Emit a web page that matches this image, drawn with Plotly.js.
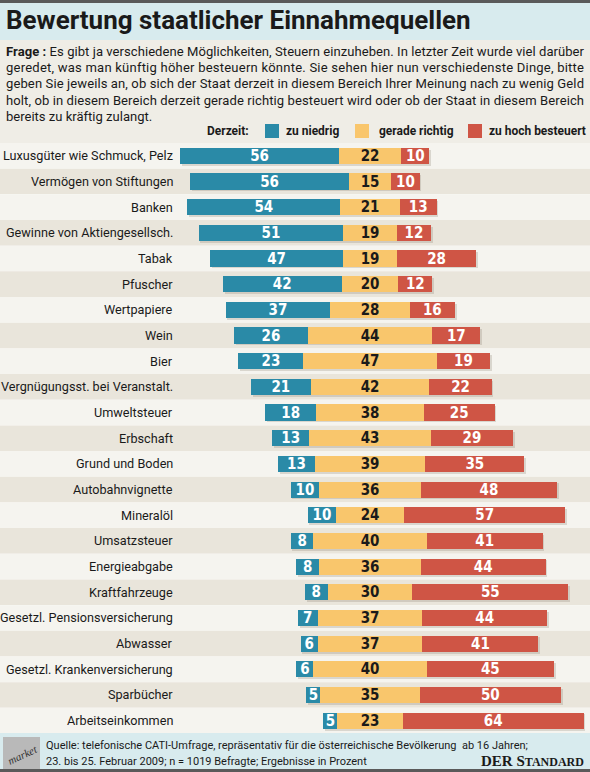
<!DOCTYPE html>
<html>
<head>
<meta charset="utf-8">
<script src="https://cdn.plot.ly/plotly-3.0.1.min.js"></script>
<style>
html,body{margin:0;padding:0;background:#fff;}
#chart{width:590px;height:772px;}
</style>
</head>
<body>
<div id="chart"></div>
<script>
// ---------- data ----------
const categories = [
  "Luxusgüter wie Schmuck, Pelz","Vermögen von Stiftungen","Banken","Gewinne von Aktiengesellsch.",
  "Tabak","Pfuscher","Wertpapiere","Wein","Bier","Vergnügungsst. bei Veranstalt.","Umweltsteuer",
  "Erbschaft","Grund und Boden","Autobahnvignette","Mineralöl","Umsatzsteuer","Energieabgabe",
  "Kraftfahrzeuge","Gesetzl. Pensionsversicherung","Abwasser","Gesetzl. Krankenversicherung",
  "Sparbücher","Arbeitseinkommen"
];
const zuNiedrig      = [56,56,54,51,47,42,37,26,23,21,18,13,13,10,10,8,8,8,7,6,6,5,5];
const geradeRichtig  = [22,15,21,19,19,20,28,44,47,42,38,43,39,36,24,40,36,30,37,37,40,35,23];
const zuHoch         = [10,10,13,12,28,12,16,17,19,22,25,29,35,48,57,41,44,55,44,41,45,50,64];
const seriesNames = ["zu niedrig","gerade richtig","zu hoch besteuert"];
const legendTitle = "Derzeit:";
const titleText = "Bewertung staatlicher Einnahmequellen";
const questionLines = [
  "<b>Frage :</b> Es gibt ja verschiedene Möglichkeiten, Steuern einzuheben. In letzter Zeit wurde viel darüber",
  "geredet, was man künftig höher besteuern könnte. Sie sehen hier nun verschiedenste Dinge, bitte",
  "geben Sie jeweils an, ob sich der Staat derzeit in diesem Bereich Ihrer Meinung nach zu wenig Geld",
  "holt, ob in diesem Bereich derzeit gerade richtig besteuert wird oder ob der Staat in diesem Bereich",
  "bereits zu kräftig zulangt."
];
const sourceLines = [
  "Quelle: telefonische CATI-Umfrage, repräsentativ für die österreichische Bevölkerung  ab 16 Jahren;",
  "23. bis 25. Februar 2009; n = 1019 Befragte; Ergebnisse in Prozent"
];

// ---------- styling ----------
const W = 590, H = 772;
const FONT = "Roboto, 'Liberation Sans', sans-serif";
const NUMFONT = "'DejaVu Sans Condensed', Roboto, sans-serif";
const C_TEAL = "#2a8aa7", C_YEL = "#f9c66c", C_RED = "#cf5545";
const INK = "#1a1a1a";
const py = p => 1 - p / H;
const px = p => p / W;

const ctx = document.createElement("canvas").getContext("2d");
function fit(text, weight, target, maxSize, family) {
  ctx.font = weight + " 100px " + (family || FONT);
  const w = ctx.measureText(text.replace(/<[^>]+>/g, "")).width;
  return Math.min(maxSize, 100 * target / w);
}

const idx = categories.map((_, i) => i);
const baseTeal = idx.map(i => -geradeRichtig[i] / 2 - zuNiedrig[i]);
const baseYel  = idx.map(i => -geradeRichtig[i] / 2);
const baseRed  = idx.map(i => geradeRichtig[i] / 2);
const totalLen = idx.map(i => zuNiedrig[i] + geradeRichtig[i] + zuHoch[i]);

const BW = 0.63;
function barTrace(vals, base, color, name, tcolor) {
  return {
    type: "bar", orientation: "h", y: idx, x: vals, base: base, name: name,
    width: BW, marker: {color: color, line: {width: 0}},
    text: vals.map(String), textposition: "inside", insidetextanchor: "middle",
    textangle: 0, constraintext: "none",
    textfont: {family: NUMFONT, size: 15, color: tcolor, weight: "bold"},
    hoverinfo: "skip", showlegend: false, cliponaxis: false
  };
}
const data = [
  {type: "bar", orientation: "h", y: idx, x: totalLen, base: baseTeal.map(b => b + 0.6),
   width: BW, offset: -BW / 2 + 0.07,
   marker: {color: "rgba(120,110,90,0.22)", line: {width: 0}}, hoverinfo: "skip", showlegend: false},
  barTrace(zuNiedrig, baseTeal, C_TEAL, seriesNames[0], "#ffffff"),
  barTrace(geradeRichtig, baseYel, C_YEL, seriesNames[1], INK),
  barTrace(zuHoch, baseRed, C_RED, seriesNames[2], "#ffffff")
];

// ---------- shapes ----------
const shapes = [];
shapes.push({type:"rect", xref:"paper", yref:"paper", x0:0, x1:1, y0:py(40), y1:py(0), fillcolor:"#d8ebee", line:{width:0}, layer:"below"});
shapes.push({type:"rect", xref:"paper", yref:"paper", x0:0, x1:1, y0:py(143), y1:py(40), fillcolor:"#efede6", line:{width:0}, layer:"below"});
shapes.push({type:"rect", xref:"paper", yref:"paper", x0:0, x1:1, y0:py(3), y1:py(0), fillcolor:"#5a5a5a", line:{width:0}});
idx.forEach(i => {
  shapes.push({type:"rect", xref:"paper", yref:"y", x0:0, x1:1, y0:i - 0.5, y1:i + 0.5,
    fillcolor: i % 2 === 0 ? "#f5f4ef" : "#e9e5db", line:{width:0}, layer:"below"});
});
shapes.push({type:"rect", xref:"paper", yref:"paper", x0:0, x1:1, y0:py(772), y1:py(733), fillcolor:"#d8ebee", line:{width:0}, layer:"below"});
shapes.push({type:"rect", xref:"paper", yref:"paper", x0:0, x1:1, y0:py(772), y1:py(769), fillcolor:"#5a5a5a", line:{width:0}});
shapes.push({type:"rect", xref:"paper", yref:"paper", x0:px(3), x1:px(40), y0:py(769), y1:py(737), fillcolor:"#b9b9b9", line:{width:0}});
[[265, C_TEAL],[355, C_YEL],[468, C_RED]].forEach(([x, c]) => {
  shapes.push({type:"rect", xref:"paper", yref:"paper", x0:px(x), x1:px(x+14), y0:py(138), y1:py(124), fillcolor:c, line:{width:0}});
});

// ---------- annotations ----------
const ann = [];
const titleSize = fit(titleText, "bold", 465, 28);
ann.push({xref:"paper", yref:"paper", x:px(4), y:py(20), xanchor:"left", yanchor:"middle", showarrow:false, align:"left",
  text:"<b>" + titleText + "</b>", font:{family:FONT, size:titleSize, color:INK}});

const qSize = fit(questionLines[0], "normal", 572, 15);
questionLines.forEach((t, k) => {
  ann.push({xref:"paper", yref:"paper", x:px(4), y:py(51 + k * 16.4), xanchor:"left", yanchor:"middle", showarrow:false, align:"left",
    text:t, font:{family:FONT, size:qSize, color:INK}});
});

const legSize = fit(seriesNames[2], "bold", 97, 14.5);
ann.push({xref:"paper", yref:"paper", x:px(251), y:py(131), xanchor:"right", yanchor:"middle", showarrow:false,
  text:"<b>" + legendTitle + "</b>", font:{family:FONT, size:legSize, color:INK}});
[[284, seriesNames[0]],[377, seriesNames[1]],[487, seriesNames[2]]].forEach(([x, t]) => {
  ann.push({xref:"paper", yref:"paper", x:px(x), y:py(131), xanchor:"left", yanchor:"middle", showarrow:false,
    text:"<b>" + t + "</b>", font:{family:FONT, size:legSize, color:INK}});
});

const labSize = fit(categories[0], "normal", 170, 14.5);
categories.forEach((c, i) => {
  ann.push({xref:"paper", yref:"y", x:px(175), y:i, xanchor:"right", yanchor:"middle", showarrow:false,
    text:c, font:{family:FONT, size:labSize, color:INK}});
});

const srcSize = fit(sourceLines[0], "normal", 482, 13);
sourceLines.forEach((t, k) => {
  ann.push({xref:"paper", yref:"paper", x:px(44), y:py(745 + k * 16), xanchor:"left", yanchor:"middle", showarrow:false, align:"left",
    text:t, font:{family:FONT, size:srcSize, color:INK}});
});
ann.push({xref:"paper", yref:"paper", x:px(586), y:py(761), xanchor:"right", yanchor:"middle", showarrow:false,
  text:"<b>DER S<span style='font-size:12px'>TANDARD</span></b>", font:{family:"'Liberation Serif', 'DejaVu Serif', serif", size:15, color:INK}});
ann.push({xref:"paper", yref:"paper", x:px(22), y:py(755), xanchor:"center", yanchor:"middle", showarrow:false,
  textangle:-25, text:"<i>market</i>", font:{family:"'Liberation Serif', serif", size:11, color:"#333"}});

// ---------- layout ----------
const layout = {
  width: W, height: H,
  margin: {l:0, r:0, t:0, b:0, pad:0},
  paper_bgcolor: "#ffffff", plot_bgcolor: "rgba(0,0,0,0)",
  barmode: "overlay", bargap: 0, showlegend: false,
  xaxis: {range:[-130.7, 77.7], domain:[0,1], visible:false, fixedrange:true},
  yaxis: {range:[22.5, -0.5], domain:[py(733.5), py(143)], visible:false, fixedrange:true},
  shapes: shapes, annotations: ann
};
Plotly.newPlot("chart", data, layout, {staticPlot:true, displayModeBar:false}).then(gd => {
  // justify the first four lines of the question text, as in the reference
  const plain = questionLines.slice(0, 4).map(t => t.replace(/<[^>]+>/g, ""));
  gd.querySelectorAll("text.annotation-text").forEach(el => {
    if (plain.indexOf(el.textContent) >= 0) {
      el.setAttribute("textLength", "578");
      el.setAttribute("lengthAdjust", "spacing");
    }
  });
});
</script>
</body>
</html>
